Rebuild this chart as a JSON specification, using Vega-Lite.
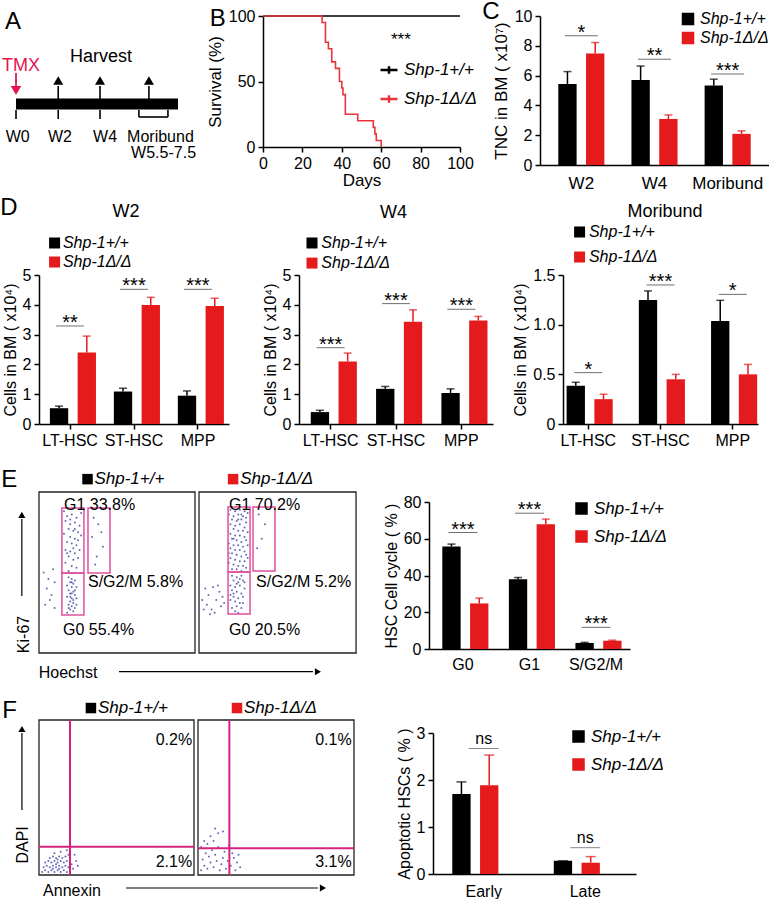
{
"$schema": "https://vega.github.io/schema/vega-lite/v6.json",
"padding": {"top": 0, "left": 0, "right": 0, "bottom": 0},
"background": "white",
"config": {
  "font": "Liberation Sans",
  "view": {"stroke": null},
  "axis": {"domainColor": "#000", "domainWidth": 1.5, "tickColor": "#000", "tickWidth": 1.5, "tickSize": 5, "labelColor": "#000", "labelFontSize": 16, "titleFontSize": 16, "titleFontWeight": "normal", "titleColor": "#000", "grid": false, "labelPadding": 3, "titlePadding": 4, "labelOverlap": false},
  "legend": {"labelColor": "#000", "labelFontStyle": "italic", "labelFontSize": 16},
  "title": {"fontSize": 18, "fontWeight": "normal", "color": "#000"},
  "text": {"color": "#000", "fontSize": 16}
},
"datasets": {
  "surv": [
    {"g": "Shp-1+/+", "day": 0, "s": 100}, {"g": "Shp-1+/+", "day": 100, "s": 100},
    {"g": "Shp-1Δ/Δ", "day": 0, "s": 100}, {"g": "Shp-1Δ/Δ", "day": 30, "s": 95}, {"g": "Shp-1Δ/Δ", "day": 31.7, "s": 80}, {"g": "Shp-1Δ/Δ", "day": 33.2, "s": 75}, {"g": "Shp-1Δ/Δ", "day": 34.9, "s": 65}, {"g": "Shp-1Δ/Δ", "day": 36.8, "s": 60}, {"g": "Shp-1Δ/Δ", "day": 38.8, "s": 50}, {"g": "Shp-1Δ/Δ", "day": 40, "s": 45}, {"g": "Shp-1Δ/Δ", "day": 40.6, "s": 40}, {"g": "Shp-1Δ/Δ", "day": 41.8, "s": 25}, {"g": "Shp-1Δ/Δ", "day": 48.1, "s": 20}, {"g": "Shp-1Δ/Δ", "day": 56, "s": 15}, {"g": "Shp-1Δ/Δ", "day": 56.8, "s": 10}, {"g": "Shp-1Δ/Δ", "day": 57.5, "s": 5}, {"g": "Shp-1Δ/Δ", "day": 60, "s": 0}
  ],
  "C": [
    {"c": "W2", "g": "Shp-1+/+", "v": 5.44, "e": 6.27}, {"c": "W2", "g": "Shp-1Δ/Δ", "v": 7.49, "e": 8.22},
    {"c": "W4", "g": "Shp-1+/+", "v": 5.71, "e": 6.64}, {"c": "W4", "g": "Shp-1Δ/Δ", "v": 3.09, "e": 3.36},
    {"c": "Moribund", "g": "Shp-1+/+", "v": 5.33, "e": 5.76}, {"c": "Moribund", "g": "Shp-1Δ/Δ", "v": 2.09, "e": 2.29}
  ],
  "Cs": [{"c": "W2", "y": 8.67, "s": "*"}, {"c": "W4", "y": 7.1, "s": "**"}, {"c": "Moribund", "y": 6.1, "s": "***"}],
  "W2": [
    {"c": "LT-HSC", "g": "Shp-1+/+", "v": 0.53, "e": 0.6}, {"c": "LT-HSC", "g": "Shp-1Δ/Δ", "v": 2.4, "e": 2.95},
    {"c": "ST-HSC", "g": "Shp-1+/+", "v": 1.09, "e": 1.2}, {"c": "ST-HSC", "g": "Shp-1Δ/Δ", "v": 3.99, "e": 4.25},
    {"c": "MPP", "g": "Shp-1+/+", "v": 0.95, "e": 1.11}, {"c": "MPP", "g": "Shp-1Δ/Δ", "v": 3.96, "e": 4.22}
  ],
  "W2s": [{"c": "LT-HSC", "y": 3.29, "s": "**"}, {"c": "ST-HSC", "y": 4.52, "s": "***"}, {"c": "MPP", "y": 4.52, "s": "***"}],
  "W4": [
    {"c": "LT-HSC", "g": "Shp-1+/+", "v": 0.4, "e": 0.46}, {"c": "LT-HSC", "g": "Shp-1Δ/Δ", "v": 2.1, "e": 2.38},
    {"c": "ST-HSC", "g": "Shp-1+/+", "v": 1.18, "e": 1.26}, {"c": "ST-HSC", "g": "Shp-1Δ/Δ", "v": 3.43, "e": 3.83},
    {"c": "MPP", "g": "Shp-1+/+", "v": 1.04, "e": 1.18}, {"c": "MPP", "g": "Shp-1Δ/Δ", "v": 3.47, "e": 3.61}
  ],
  "W4s": [{"c": "LT-HSC", "y": 2.56, "s": "***"}, {"c": "ST-HSC", "y": 4.04, "s": "***"}, {"c": "MPP", "y": 3.85, "s": "***"}],
  "Mo": [
    {"c": "LT-HSC", "g": "Shp-1+/+", "v": 0.385, "e": 0.42}, {"c": "LT-HSC", "g": "Shp-1Δ/Δ", "v": 0.25, "e": 0.3},
    {"c": "ST-HSC", "g": "Shp-1+/+", "v": 1.248, "e": 1.34}, {"c": "ST-HSC", "g": "Shp-1Δ/Δ", "v": 0.45, "e": 0.5},
    {"c": "MPP", "g": "Shp-1+/+", "v": 1.037, "e": 1.245}, {"c": "MPP", "g": "Shp-1Δ/Δ", "v": 0.5, "e": 0.6}
  ],
  "Mos": [{"c": "LT-HSC", "y": 0.517, "s": "*"}, {"c": "ST-HSC", "y": 1.4, "s": "***"}, {"c": "MPP", "y": 1.305, "s": "*"}],
  "Eb": [
    {"c": "G0", "g": "Shp-1+/+", "v": 55.8, "e": 57.1}, {"c": "G0", "g": "Shp-1Δ/Δ", "v": 24.8, "e": 27.7},
    {"c": "G1", "g": "Shp-1+/+", "v": 38.0, "e": 38.9}, {"c": "G1", "g": "Shp-1Δ/Δ", "v": 67.9, "e": 70.7},
    {"c": "S/G2/M", "g": "Shp-1+/+", "v": 3.3, "e": 3.6}, {"c": "S/G2/M", "g": "Shp-1Δ/Δ", "v": 4.5, "e": 4.8}
  ],
  "Ebs": [{"c": "G0", "y": 63.4, "s": "***"}, {"c": "G1", "y": 73.9, "s": "***"}, {"c": "S/G2/M", "y": 11.8, "s": "***"}],
  "Fb": [
    {"c": "Early", "g": "Shp-1+/+", "v": 1.7, "e": 1.96}, {"c": "Early", "g": "Shp-1Δ/Δ", "v": 1.89, "e": 2.53},
    {"c": "Late", "g": "Shp-1+/+", "v": 0.28, "e": 0.28}, {"c": "Late", "g": "Shp-1Δ/Δ", "v": 0.24, "e": 0.37}
  ],
  "Fbs": [{"c": "Early", "y": 2.67, "s": "ns"}, {"c": "Late", "y": 0.56, "s": "ns"}],
  "E1": [
    {"x":16,"y":88},{"x":18,"y":85},{"x":21,"y":86},{"x":24,"y":84},{"x":27,"y":87},{"x":17,"y":82},{"x":20,"y":80},{"x":23,"y":81},{"x":26,"y":79},{"x":19,"y":77},{"x":22,"y":76},{"x":25,"y":75},{"x":16,"y":74},{"x":20,"y":72},{"x":23,"y":71},{"x":27,"y":73},{"x":18,"y":69},{"x":21,"y":68},{"x":24,"y":67},{"x":17,"y":64},{"x":20,"y":63},{"x":23,"y":62},{"x":26,"y":64},{"x":19,"y":60},{"x":22,"y":58},{"x":25,"y":59},{"x":17,"y":56},{"x":21,"y":54},{"x":24,"y":53},{"x":19,"y":51},{"x":22,"y":65},{"x":25,"y":70},{"x":20,"y":83},{"x":23,"y":77},{"x":18,"y":62},
    {"x":19,"y":47},{"x":21,"y":46},{"x":23,"y":45},{"x":20,"y":44},{"x":22,"y":43},{"x":18,"y":42},{"x":21,"y":41},{"x":24,"y":41},{"x":19,"y":39},{"x":22,"y":38},{"x":20,"y":37},{"x":23,"y":36},{"x":18,"y":35},{"x":21,"y":34},{"x":24,"y":34},{"x":20,"y":32},{"x":22,"y":31},{"x":19,"y":30},{"x":21,"y":29},{"x":23,"y":28},{"x":20,"y":27},{"x":22,"y":26},{"x":18,"y":25},{"x":21,"y":44},{"x":23,"y":39},{"x":20,"y":35},{"x":22,"y":33},{"x":24,"y":30},{"x":19,"y":28},{"x":21,"y":37},
    {"x":35,"y":84},{"x":38,"y":80},{"x":34,"y":72},{"x":41,"y":66},{"x":37,"y":60},{"x":40,"y":75},{"x":36,"y":55},
    {"x":3,"y":50},{"x":6,"y":46},{"x":9,"y":52},{"x":5,"y":40},{"x":8,"y":36},{"x":10,"y":44},{"x":4,"y":30},{"x":10,"y":28},{"x":7,"y":33}
  ],
  "E2": [
    {"x":20,"y":89},{"x":23,"y":88},{"x":26,"y":89},{"x":29,"y":88},{"x":31,"y":87},{"x":19,"y":86},{"x":22,"y":85},{"x":25,"y":86},{"x":28,"y":85},{"x":30,"y":84},{"x":21,"y":83},{"x":24,"y":82},{"x":27,"y":83},{"x":30,"y":81},{"x":20,"y":80},{"x":23,"y":79},{"x":26,"y":80},{"x":29,"y":78},{"x":22,"y":77},{"x":25,"y":76},{"x":28,"y":76},{"x":31,"y":75},{"x":20,"y":74},{"x":23,"y":73},{"x":26,"y":73},{"x":29,"y":72},{"x":21,"y":71},{"x":24,"y":70},{"x":27,"y":69},{"x":30,"y":70},{"x":19,"y":68},{"x":22,"y":67},{"x":25,"y":67},{"x":28,"y":66},{"x":31,"y":67},{"x":20,"y":65},{"x":23,"y":64},{"x":26,"y":64},{"x":29,"y":63},{"x":21,"y":62},{"x":24,"y":61},{"x":27,"y":60},{"x":30,"y":61},{"x":20,"y":59},{"x":23,"y":58},{"x":26,"y":57},{"x":29,"y":57},{"x":22,"y":55},{"x":25,"y":54},{"x":28,"y":54},{"x":21,"y":52},{"x":24,"y":52},{"x":27,"y":51},{"x":30,"y":53},{"x":19,"y":56},{"x":31,"y":59},{"x":19,"y":62},{"x":25,"y":83},{"x":22,"y":71},{"x":27,"y":86},
    {"x":21,"y":48},{"x":24,"y":47},{"x":27,"y":48},{"x":22,"y":45},{"x":25,"y":44},{"x":28,"y":45},{"x":20,"y":42},{"x":23,"y":41},{"x":26,"y":42},{"x":29,"y":40},{"x":21,"y":39},{"x":24,"y":38},{"x":27,"y":37},{"x":22,"y":35},{"x":25,"y":34},{"x":28,"y":35},{"x":20,"y":33},{"x":23,"y":32},{"x":26,"y":31},{"x":24,"y":29},{"x":21,"y":28},{"x":27,"y":28},{"x":23,"y":26},{"x":25,"y":25},{"x":22,"y":37},{"x":26,"y":46},{"x":29,"y":44},{"x":20,"y":36},{"x":28,"y":31},{"x":24,"y":43},
    {"x":38,"y":86},{"x":42,"y":80},{"x":40,"y":71},{"x":37,"y":65},
    {"x":4,"y":40},{"x":6,"y":36},{"x":9,"y":41},{"x":11,"y":33},{"x":5,"y":30},{"x":8,"y":27},{"x":13,"y":38},{"x":10,"y":25},{"x":7,"y":24},{"x":14,"y":29},{"x":12,"y":42},{"x":3,"y":27},{"x":15,"y":35},{"x":2,"y":33},{"x":16,"y":31}
  ],
  "F1": [
    {"x":2,"y":2},{"x":4,"y":3},{"x":6,"y":2},{"x":8,"y":3},{"x":10,"y":2},{"x":12,"y":3},{"x":14,"y":2},{"x":16,"y":3},{"x":18,"y":2},{"x":3,"y":5},{"x":5,"y":6},{"x":7,"y":5},{"x":9,"y":6},{"x":11,"y":5},{"x":13,"y":6},{"x":15,"y":5},{"x":17,"y":6},{"x":19,"y":5},{"x":4,"y":8},{"x":6,"y":9},{"x":8,"y":8},{"x":10,"y":9},{"x":12,"y":8},{"x":14,"y":9},{"x":16,"y":8},{"x":18,"y":9},{"x":7,"y":11},{"x":9,"y":12},{"x":11,"y":11},{"x":13,"y":12},{"x":15,"y":11},{"x":17,"y":12},{"x":19,"y":13},{"x":10,"y":14},{"x":14,"y":15},{"x":18,"y":16},{"x":20,"y":10},{"x":21,"y":7},{"x":22,"y":4},{"x":24,"y":9},{"x":23,"y":13},{"x":25,"y":6},{"x":9,"y":4},{"x":11,"y":7},{"x":13,"y":4},{"x":12,"y":10}
  ],
  "F2": [
    {"x":2,"y":3},{"x":4,"y":6},{"x":3,"y":10},{"x":5,"y":14},{"x":2,"y":18},{"x":4,"y":22},{"x":6,"y":4},{"x":8,"y":8},{"x":7,"y":12},{"x":9,"y":16},{"x":6,"y":20},{"x":8,"y":25},{"x":10,"y":5},{"x":12,"y":9},{"x":11,"y":13},{"x":13,"y":18},{"x":10,"y":22},{"x":14,"y":3},{"x":15,"y":7},{"x":16,"y":11},{"x":13,"y":27},{"x":17,"y":15},{"x":18,"y":4},{"x":19,"y":9},{"x":21,"y":6},{"x":23,"y":11},{"x":25,"y":8},{"x":27,"y":5},{"x":22,"y":14},{"x":24,"y":3},{"x":20,"y":19},{"x":16,"y":28},{"x":11,"y":30},{"x":26,"y":13}
  ]
},
"resolve": {"scale": {"color": "independent", "fill": "independent", "stroke": "independent"}, "legend": {"color": "independent"}},
"spacing": 5,
"vconcat": [
 {
  "hconcat": [
  {
    "width": 144, "height": 148,
    "layer": [
      {"data": {"values": [{"w": 0, "w2": 7.75, "L": -0.2}]}, "mark": {"type": "rule", "strokeWidth": 11, "color": "#000", "strokeCap": "butt"},
       "encoding": {"x": {"field": "w", "type": "quantitative", "scale": {"domain": [1.1, 7.99], "nice": false, "zero": false}, "axis": null}, "x2": {"field": "w2"}, "y": {"field": "L", "type": "quantitative", "scale": {"domain": [-6.2, 8.6], "nice": false, "zero": false}, "axis": null}}},
      {"data": {"values": [{"w": 0, "w2": 0, "L": -0.8, "L2": -1.7}, {"w": 2.02, "w2": 2.02, "L": -0.8, "L2": -1.7}, {"w": 4.02, "w2": 4.02, "L": -0.8, "L2": -1.7}, {"w": 5.88, "w2": 5.88, "L": -0.8, "L2": -1.5}, {"w": 7.27, "w2": 7.27, "L": -0.8, "L2": -1.5}, {"w": 5.88, "w2": 7.27, "L": -1.5, "L2": -1.5}, {"w": 2.02, "w2": 2.02, "L": 0.3, "L2": 1.6}, {"w": 4.02, "w2": 4.02, "L": 0.3, "L2": 1.6}, {"w": 6.36, "w2": 6.36, "L": 0.3, "L2": 1.6}]},
       "mark": {"type": "rule", "strokeWidth": 1.6, "color": "#000"},
       "encoding": {"x": {"field": "w", "type": "quantitative"}, "x2": {"field": "w2"}, "y": {"field": "L", "type": "quantitative"}, "y2": {"field": "L2"}}},
      {"data": {"values": [{"w": 0, "w2": 0, "L": 2.9, "L2": 1.5}]}, "mark": {"type": "rule", "strokeWidth": 1.8, "color": "#e3174e"},
       "encoding": {"x": {"field": "w", "type": "quantitative"}, "x2": {"field": "w2"}, "y": {"field": "L", "type": "quantitative"}, "y2": {"field": "L2"}}},
      {"data": {"values": [{"w": 2.02, "L": 2.15}, {"w": 4.02, "L": 2.15}, {"w": 6.36, "L": 2.15}]}, "mark": {"type": "point", "shape": "triangle-up", "filled": true, "size": 100, "color": "#000", "opacity": 1},
       "encoding": {"x": {"field": "w", "type": "quantitative"}, "y": {"field": "L", "type": "quantitative"}}},
      {"data": {"values": [{"w": 0, "L": 1.15}]}, "mark": {"type": "point", "shape": "triangle-down", "filled": true, "size": 110, "color": "#e3174e", "opacity": 1},
       "encoding": {"x": {"field": "w", "type": "quantitative"}, "y": {"field": "L", "type": "quantitative"}}},
      {"data": {"values": [{"w": 0.08, "L": -4.0, "t": "W0"}, {"w": 2.1, "L": -4.0, "t": "W2"}, {"w": 4.26, "L": -4.0, "t": "W4"}, {"w": 6.91, "L": -4.0, "t": "Moribund"}, {"w": 7.06, "L": -5.6, "t": "W5.5-7.5"}]},
       "mark": {"type": "text", "fontSize": 16, "baseline": "alphabetic"},
       "encoding": {"x": {"field": "w", "type": "quantitative"}, "y": {"field": "L", "type": "quantitative"}, "text": {"field": "t"}}},
      {"data": {"values": [{"w": 4.07, "L": 4.0, "t": "Harvest"}]}, "mark": {"type": "text", "fontSize": 18, "baseline": "alphabetic"},
       "encoding": {"x": {"field": "w", "type": "quantitative"}, "y": {"field": "L", "type": "quantitative"}, "text": {"field": "t"}}},
      {"data": {"values": [{"w": 0.24, "L": 3.1, "t": "TMX"}]}, "mark": {"type": "text", "fontSize": 18, "baseline": "alphabetic", "color": "#e3174e"},
       "encoding": {"x": {"field": "w", "type": "quantitative"}, "y": {"field": "L", "type": "quantitative"}, "text": {"field": "t"}}},
      {"data": {"values": [{"w": -0.14, "L": 7.3, "t": "A"}]}, "mark": {"type": "text", "fontSize": 24, "baseline": "alphabetic"},
       "encoding": {"x": {"field": "w", "type": "quantitative"}, "y": {"field": "L", "type": "quantitative"}, "text": {"field": "t"}}}
    ]
  },
  {
    "width": 197, "height": 131,
    "layer": [
      {"data": {"name": "surv"}, "mark": {"type": "line", "interpolate": "step-after", "strokeWidth": 1.6},
       "encoding": {
         "x": {"field": "day", "type": "quantitative", "scale": {"domain": [0, 100], "nice": false}, "axis": {"values": [0, 20, 40, 60, 80, 100], "tickCount": 12, "format": "d", "title": "Days", "titleFontSize": 17, "titlePadding": 1, "labelFlush": false, "labelOverlap": false}},
         "y": {"field": "s", "type": "quantitative", "scale": {"domain": [0, 100], "nice": false}, "axis": {"values": [0, 50, 100], "tickCount": 12, "format": "d", "title": "Survival (%)", "titleFontSize": 17, "labelOverlap": false}},
         "color": {"field": "g", "type": "nominal", "scale": {"domain": ["Shp-1+/+", "Shp-1Δ/Δ"], "range": ["#000000", "#e8333a"]}, "legend": {"orient": "none", "legendX": 116, "legendY": 44, "title": null, "symbolType": "M-1,0H1M0,-0.45V0.45", "symbolSize": 289, "symbolStrokeWidth": 2.5, "labelFontSize": 17, "rowPadding": 10, "labelOffset": 5}}
       }},
      {"data": {"values": [{"day": 70, "s": 78, "t": "***"}]}, "mark": {"type": "text", "fontSize": 17, "baseline": "alphabetic"},
       "encoding": {"x": {"field": "day", "type": "quantitative"}, "y": {"field": "s", "type": "quantitative"}, "text": {"field": "t"}}},
      {"data": {"values": [{"day": -23, "s": 92.4, "t": "B"}]}, "mark": {"type": "text", "fontSize": 24, "baseline": "alphabetic"},
       "encoding": {"x": {"field": "day", "type": "quantitative"}, "y": {"field": "s", "type": "quantitative"}, "text": {"field": "t"}}}
    ]
  },
  {
    "width": 229, "height": 149,
    "title": {"text": "C", "anchor": "start", "frame": "bounds", "fontSize": 24, "baseline": "alphabetic", "offset": -35, "dx": -10},
    "layer": [
      {"data": {"name": "C"}, "mark": {"type": "bar"},
       "encoding": {
         "x": {"field": "c", "type": "nominal", "sort": ["W2", "W4", "Moribund"], "scale": {"paddingInner": 0.37, "paddingOuter": 0.25}, "axis": {"title": null, "labelAngle": 0, "ticks": false, "tickSize": 0, "labelPadding": 10, "labelFontSize": 17}},
         "xOffset": {"field": "g", "type": "nominal", "sort": ["Shp-1+/+", "Shp-1Δ/Δ"], "scale": {"paddingInner": 0.34}},
         "y": {"field": "v", "type": "quantitative", "scale": {"domain": [0, 10], "nice": false}, "axis": {"values": [0, 2, 4, 6, 8, 10], "tickCount": 12, "format": "d", "title": "TNC in BM ( x10⁷)", "titleFontSize": 17, "labelOverlap": false}},
         "color": {"field": "g", "type": "nominal", "scale": {"domain": ["Shp-1+/+", "Shp-1Δ/Δ"], "range": ["#000000", "#e41a1c"]}, "legend": {"orient": "none", "legendX": 140, "legendY": -5, "title": null, "symbolType": "square", "symbolSize": 121, "labelFontSize": 16, "rowPadding": 1, "labelOffset": 4}}
       }},
      {"data": {"name": "C"}, "mark": {"type": "rule", "strokeWidth": 1.5},
       "encoding": {"x": {"field": "c", "type": "nominal", "sort": ["W2", "W4", "Moribund"]}, "xOffset": {"field": "g", "type": "nominal", "sort": ["Shp-1+/+", "Shp-1Δ/Δ"]}, "y": {"field": "v", "type": "quantitative"}, "y2": {"field": "e"}, "stroke": {"field": "g", "type": "nominal", "scale": {"domain": ["Shp-1+/+", "Shp-1Δ/Δ"], "range": ["#000000", "#e41a1c"]}, "legend": null}}},
      {"data": {"name": "C"}, "mark": {"type": "tick", "orient": "horizontal", "size": 8, "thickness": 1.5},
       "encoding": {"x": {"field": "c", "type": "nominal", "sort": ["W2", "W4", "Moribund"]}, "xOffset": {"field": "g", "type": "nominal", "sort": ["Shp-1+/+", "Shp-1Δ/Δ"]}, "y": {"field": "e", "type": "quantitative"}, "fill": {"field": "g", "type": "nominal", "scale": {"domain": ["Shp-1+/+", "Shp-1Δ/Δ"], "range": ["#000000", "#e41a1c"]}, "legend": null}}},
      {"data": {"name": "Cs"}, "mark": {"type": "tick", "orient": "horizontal", "size": 33, "thickness": 1, "color": "#333"},
       "encoding": {"x": {"field": "c", "type": "nominal", "sort": ["W2", "W4", "Moribund"]}, "y": {"field": "y", "type": "quantitative"}}},
      {"data": {"name": "Cs"}, "mark": {"type": "text", "fontSize": 20, "baseline": "alphabetic", "dy": 3},
       "encoding": {"x": {"field": "c", "type": "nominal", "sort": ["W2", "W4", "Moribund"]}, "y": {"field": "y", "type": "quantitative"}, "text": {"field": "s"}}}
    ]
  }
  ],
  "spacing": 80, "bounds": "flush",
  "resolve": {"scale": {"color": "independent", "fill": "independent", "stroke": "independent"}, "legend": {"color": "independent"}}
 },
 {
  "vconcat": [
   {
    "hconcat": [
  {
    "width": 190, "height": 149,
    "resolve": {"scale": {"x": "independent"}},
    "layer": [
      {"layer": [
        {"data": {"name": "W2"}, "mark": {"type": "bar"},
         "encoding": {
           "x": {"field": "c", "type": "nominal", "sort": ["LT-HSC", "ST-HSC", "MPP"], "scale": {"paddingInner": 0.37, "paddingOuter": 0.17}, "axis": {"title": null, "labelAngle": 0}},
           "xOffset": {"field": "g", "type": "nominal", "sort": ["Shp-1+/+", "Shp-1Δ/Δ"], "scale": {"paddingInner": 0.3}},
           "y": {"field": "v", "type": "quantitative", "scale": {"domain": [0, 5], "nice": false}, "axis": {"values": [0, 1, 2, 3, 4, 5], "tickCount": 12, "format": "d", "title": "Cells in BM ( x10⁴)", "labelOverlap": false}},
           "color": {"field": "g", "type": "nominal", "scale": {"domain": ["Shp-1+/+", "Shp-1Δ/Δ"], "range": ["#000000", "#e41a1c"]}, "legend": null}
         }},
        {"data": {"name": "W2"}, "mark": {"type": "rule", "strokeWidth": 1.5},
         "encoding": {"x": {"field": "c", "type": "nominal", "sort": ["LT-HSC", "ST-HSC", "MPP"]}, "xOffset": {"field": "g", "type": "nominal", "sort": ["Shp-1+/+", "Shp-1Δ/Δ"]}, "y": {"field": "v", "type": "quantitative"}, "y2": {"field": "e"}, "stroke": {"field": "g", "type": "nominal", "scale": {"domain": ["Shp-1+/+", "Shp-1Δ/Δ"], "range": ["#000000", "#e41a1c"]}, "legend": null}}},
        {"data": {"name": "W2"}, "mark": {"type": "tick", "orient": "horizontal", "size": 8, "thickness": 1.5},
         "encoding": {"x": {"field": "c", "type": "nominal", "sort": ["LT-HSC", "ST-HSC", "MPP"]}, "xOffset": {"field": "g", "type": "nominal", "sort": ["Shp-1+/+", "Shp-1Δ/Δ"]}, "y": {"field": "e", "type": "quantitative"}, "fill": {"field": "g", "type": "nominal", "scale": {"domain": ["Shp-1+/+", "Shp-1Δ/Δ"], "range": ["#000000", "#e41a1c"]}, "legend": null}}},
        {"data": {"name": "W2s"}, "mark": {"type": "tick", "orient": "horizontal", "size": 28, "thickness": 1, "color": "#333"},
         "encoding": {"x": {"field": "c", "type": "nominal", "sort": ["LT-HSC", "ST-HSC", "MPP"]}, "y": {"field": "y", "type": "quantitative"}}},
        {"data": {"name": "W2s"}, "mark": {"type": "text", "fontSize": 20, "baseline": "alphabetic", "dy": 3},
         "encoding": {"x": {"field": "c", "type": "nominal", "sort": ["LT-HSC", "ST-HSC", "MPP"]}, "y": {"field": "y", "type": "quantitative"}, "text": {"field": "s"}}}
      ]},
      {"layer": [
        {"data": {"values": [{"px": 0.082, "py": 6.074, "k": "#000000"}, {"px": 0.082, "py": 5.436, "k": "#e41a1c"}]}, "mark": {"type": "point", "shape": "square", "filled": true, "size": 121, "opacity": 1},
         "encoding": {"x": {"field": "px", "type": "quantitative", "scale": {"domain": [0, 1], "nice": false, "zero": false}, "axis": null}, "y": {"field": "py", "type": "quantitative"}, "fill": {"field": "k", "type": "nominal", "scale": null}}},
        {"data": {"values": [{"px": 0.126, "py": 6.074, "t": "Shp-1+/+"}, {"px": 0.126, "py": 5.436, "t": "Shp-1Δ/Δ"}]}, "mark": {"type": "text", "fontSize": 16, "fontStyle": "italic", "align": "left", "baseline": "middle"},
         "encoding": {"x": {"field": "px", "type": "quantitative"}, "y": {"field": "py", "type": "quantitative"}, "text": {"field": "t"}}},
        {"data": {"values": [{"px": 0.458, "py": 6.946, "t": "W2"}]}, "mark": {"type": "text", "fontSize": 18, "baseline": "alphabetic"},
         "encoding": {"x": {"field": "px", "type": "quantitative"}, "y": {"field": "py", "type": "quantitative"}, "text": {"field": "t"}}},
        {"data": {"values": [{"px": -0.158, "py": 7.01, "t": "D"}]}, "mark": {"type": "text", "fontSize": 24, "baseline": "alphabetic"},
         "encoding": {"x": {"field": "px", "type": "quantitative"}, "y": {"field": "py", "type": "quantitative"}, "text": {"field": "t"}}}
      ]}
    ]
  },
  {
    "width": 194, "height": 149,
    "resolve": {"scale": {"x": "independent"}},
    "layer": [
      {"layer": [
        {"data": {"name": "W4"}, "mark": {"type": "bar"},
         "encoding": {
           "x": {"field": "c", "type": "nominal", "sort": ["LT-HSC", "ST-HSC", "MPP"], "scale": {"paddingInner": 0.39, "paddingOuter": 0.18}, "axis": {"title": null, "labelAngle": 0}},
           "xOffset": {"field": "g", "type": "nominal", "sort": ["Shp-1+/+", "Shp-1Δ/Δ"], "scale": {"paddingInner": 0.3}},
           "y": {"field": "v", "type": "quantitative", "scale": {"domain": [0, 5], "nice": false}, "axis": {"values": [0, 1, 2, 3, 4, 5], "tickCount": 12, "format": "d", "title": "Cells in BM ( x10⁴)", "labelOverlap": false}},
           "color": {"field": "g", "type": "nominal", "scale": {"domain": ["Shp-1+/+", "Shp-1Δ/Δ"], "range": ["#000000", "#e41a1c"]}, "legend": null}
         }},
        {"data": {"name": "W4"}, "mark": {"type": "rule", "strokeWidth": 1.5},
         "encoding": {"x": {"field": "c", "type": "nominal", "sort": ["LT-HSC", "ST-HSC", "MPP"]}, "xOffset": {"field": "g", "type": "nominal", "sort": ["Shp-1+/+", "Shp-1Δ/Δ"]}, "y": {"field": "v", "type": "quantitative"}, "y2": {"field": "e"}, "stroke": {"field": "g", "type": "nominal", "scale": {"domain": ["Shp-1+/+", "Shp-1Δ/Δ"], "range": ["#000000", "#e41a1c"]}, "legend": null}}},
        {"data": {"name": "W4"}, "mark": {"type": "tick", "orient": "horizontal", "size": 8, "thickness": 1.5},
         "encoding": {"x": {"field": "c", "type": "nominal", "sort": ["LT-HSC", "ST-HSC", "MPP"]}, "xOffset": {"field": "g", "type": "nominal", "sort": ["Shp-1+/+", "Shp-1Δ/Δ"]}, "y": {"field": "e", "type": "quantitative"}, "fill": {"field": "g", "type": "nominal", "scale": {"domain": ["Shp-1+/+", "Shp-1Δ/Δ"], "range": ["#000000", "#e41a1c"]}, "legend": null}}},
        {"data": {"name": "W4s"}, "mark": {"type": "tick", "orient": "horizontal", "size": 28, "thickness": 1, "color": "#333"},
         "encoding": {"x": {"field": "c", "type": "nominal", "sort": ["LT-HSC", "ST-HSC", "MPP"]}, "y": {"field": "y", "type": "quantitative"}}},
        {"data": {"name": "W4s"}, "mark": {"type": "text", "fontSize": 20, "baseline": "alphabetic", "dy": 3},
         "encoding": {"x": {"field": "c", "type": "nominal", "sort": ["LT-HSC", "ST-HSC", "MPP"]}, "y": {"field": "y", "type": "quantitative"}, "text": {"field": "s"}}}
      ]},
      {"layer": [
        {"data": {"values": [{"px": 0.067, "py": 6.074, "k": "#000000"}, {"px": 0.067, "py": 5.40, "k": "#e41a1c"}]}, "mark": {"type": "point", "shape": "square", "filled": true, "size": 121, "opacity": 1},
         "encoding": {"x": {"field": "px", "type": "quantitative", "scale": {"domain": [0, 1], "nice": false, "zero": false}, "axis": null}, "y": {"field": "py", "type": "quantitative"}, "fill": {"field": "k", "type": "nominal", "scale": null}}},
        {"data": {"values": [{"px": 0.115, "py": 6.074, "t": "Shp-1+/+"}, {"px": 0.115, "py": 5.40, "t": "Shp-1Δ/Δ"}]}, "mark": {"type": "text", "fontSize": 16, "fontStyle": "italic", "align": "left", "baseline": "middle"},
         "encoding": {"x": {"field": "px", "type": "quantitative"}, "y": {"field": "py", "type": "quantitative"}, "text": {"field": "t"}}},
        {"data": {"values": [{"px": 0.487, "py": 6.91, "t": "W4"}]}, "mark": {"type": "text", "fontSize": 18, "baseline": "alphabetic"},
         "encoding": {"x": {"field": "px", "type": "quantitative"}, "y": {"field": "py", "type": "quantitative"}, "text": {"field": "t"}}}
      ]}
    ]
  },
  {
    "width": 195, "height": 149,
    "resolve": {"scale": {"x": "independent"}},
    "layer": [
      {"layer": [
        {"data": {"name": "Mo"}, "mark": {"type": "bar"},
         "encoding": {
           "x": {"field": "c", "type": "nominal", "sort": ["LT-HSC", "ST-HSC", "MPP"], "scale": {"paddingInner": 0.4, "paddingOuter": 0.05}, "axis": {"title": null, "labelAngle": 0}},
           "xOffset": {"field": "g", "type": "nominal", "sort": ["Shp-1+/+", "Shp-1Δ/Δ"], "scale": {"paddingInner": 0.3}},
           "y": {"field": "v", "type": "quantitative", "scale": {"domain": [0, 1.5], "nice": false}, "axis": {"values": [0, 0.5, 1, 1.5], "tickCount": 12, "labelExpr": "datum.value == 0 ? '0' : format(datum.value, '.1f')", "title": "Cells in BM ( x10⁴)", "labelOverlap": false}},
           "color": {"field": "g", "type": "nominal", "scale": {"domain": ["Shp-1+/+", "Shp-1Δ/Δ"], "range": ["#000000", "#e41a1c"]}, "legend": null}
         }},
        {"data": {"name": "Mo"}, "mark": {"type": "rule", "strokeWidth": 1.5},
         "encoding": {"x": {"field": "c", "type": "nominal", "sort": ["LT-HSC", "ST-HSC", "MPP"]}, "xOffset": {"field": "g", "type": "nominal", "sort": ["Shp-1+/+", "Shp-1Δ/Δ"]}, "y": {"field": "v", "type": "quantitative"}, "y2": {"field": "e"}, "stroke": {"field": "g", "type": "nominal", "scale": {"domain": ["Shp-1+/+", "Shp-1Δ/Δ"], "range": ["#000000", "#e41a1c"]}, "legend": null}}},
        {"data": {"name": "Mo"}, "mark": {"type": "tick", "orient": "horizontal", "size": 8, "thickness": 1.5},
         "encoding": {"x": {"field": "c", "type": "nominal", "sort": ["LT-HSC", "ST-HSC", "MPP"]}, "xOffset": {"field": "g", "type": "nominal", "sort": ["Shp-1+/+", "Shp-1Δ/Δ"]}, "y": {"field": "e", "type": "quantitative"}, "fill": {"field": "g", "type": "nominal", "scale": {"domain": ["Shp-1+/+", "Shp-1Δ/Δ"], "range": ["#000000", "#e41a1c"]}, "legend": null}}},
        {"data": {"name": "Mos"}, "mark": {"type": "tick", "orient": "horizontal", "size": 28, "thickness": 1, "color": "#333"},
         "encoding": {"x": {"field": "c", "type": "nominal", "sort": ["LT-HSC", "ST-HSC", "MPP"]}, "y": {"field": "y", "type": "quantitative"}}},
        {"data": {"name": "Mos"}, "mark": {"type": "text", "fontSize": 20, "baseline": "alphabetic", "dy": 3},
         "encoding": {"x": {"field": "c", "type": "nominal", "sort": ["LT-HSC", "ST-HSC", "MPP"]}, "y": {"field": "y", "type": "quantitative"}, "text": {"field": "s"}}}
      ]},
      {"layer": [
        {"data": {"values": [{"px": 0.085, "py": 1.933, "k": "#000000"}, {"px": 0.085, "py": 1.681, "k": "#e41a1c"}]}, "mark": {"type": "point", "shape": "square", "filled": true, "size": 121, "opacity": 1},
         "encoding": {"x": {"field": "px", "type": "quantitative", "scale": {"domain": [0, 1], "nice": false, "zero": false}, "axis": null}, "y": {"field": "py", "type": "quantitative"}, "fill": {"field": "k", "type": "nominal", "scale": null}}},
        {"data": {"values": [{"px": 0.133, "py": 1.933, "t": "Shp-1+/+"}, {"px": 0.133, "py": 1.681, "t": "Shp-1Δ/Δ"}]}, "mark": {"type": "text", "fontSize": 16, "fontStyle": "italic", "align": "left", "baseline": "middle"},
         "encoding": {"x": {"field": "px", "type": "quantitative"}, "y": {"field": "py", "type": "quantitative"}, "text": {"field": "t"}}},
        {"data": {"values": [{"px": 0.523, "py": 2.084, "t": "Moribund"}]}, "mark": {"type": "text", "fontSize": 18, "baseline": "alphabetic"},
         "encoding": {"x": {"field": "px", "type": "quantitative"}, "y": {"field": "py", "type": "quantitative"}, "text": {"field": "t"}}}
      ]}
    ]
  }
    ],
    "spacing": 70, "bounds": "flush",
    "resolve": {"scale": {"color": "independent", "fill": "independent", "stroke": "independent"}, "legend": {"color": "independent"}}
   },
   {
    "vconcat": [
     {
      "hconcat": [
  {
    "width": 156, "height": 151,
    "layer": [
      {"data": {"values": [{"x": 0, "x2": 100, "y": 0, "y2": 100}]}, "mark": {"type": "rect", "fillOpacity": 0, "stroke": "#222", "strokeWidth": 1.3},
       "encoding": {"x": {"field": "x", "type": "quantitative", "scale": {"domain": [0, 100], "nice": false, "zero": false}, "axis": null}, "x2": {"field": "x2"}, "y": {"field": "y", "type": "quantitative", "scale": {"domain": [0, 93.8], "nice": false, "zero": false}, "axis": null}, "y2": {"field": "y2"}}},
      {"data": {"name": "E1"}, "mark": {"type": "point", "filled": true, "size": 4, "color": "#3d45a3", "opacity": 0.8},
       "encoding": {"x": {"field": "x", "type": "quantitative"}, "y": {"field": "y", "type": "quantitative"}}},
      {"data": {"values": [{"x": 14.7, "x2": 28.8, "y": 49.7, "y2": 90}, {"x": 31.4, "x2": 45.5, "y": 49.7, "y2": 90}, {"x": 14.7, "x2": 28.8, "y": 23.6, "y2": 49.7}]},
       "mark": {"type": "rect", "fillOpacity": 0, "stroke": "#e0509e", "strokeWidth": 1.5},
       "encoding": {"x": {"field": "x", "type": "quantitative"}, "x2": {"field": "x2"}, "y": {"field": "y", "type": "quantitative"}, "y2": {"field": "y2"}}},
      {"data": {"values": [{"x": 16, "y": 88.8, "t": "G1 33.8%"}, {"x": 31.4, "y": 41, "t": "S/G2/M 5.8%"}, {"x": 15.4, "y": 11.2, "t": "G0 55.4%"}]},
       "mark": {"type": "text", "fontSize": 16, "align": "left", "baseline": "alphabetic"},
       "encoding": {"x": {"field": "x", "type": "quantitative"}, "y": {"field": "y", "type": "quantitative"}, "text": {"field": "t"}}},
      {"data": {"values": [{"x": 31.1, "y": 108}]}, "mark": {"type": "point", "shape": "square", "filled": true, "size": 110, "color": "#000", "opacity": 1},
       "encoding": {"x": {"field": "x", "type": "quantitative"}, "y": {"field": "y", "type": "quantitative"}}},
      {"data": {"values": [{"x": 35.5, "y": 108, "t": "Shp-1+/+"}]}, "mark": {"type": "text", "fontSize": 17, "fontStyle": "italic", "align": "left", "baseline": "middle"},
       "encoding": {"x": {"field": "x", "type": "quantitative"}, "y": {"field": "y", "type": "quantitative"}, "text": {"field": "t"}}},
      {"data": {"values": [{"x": -19, "y": 103.1, "t": "E"}]}, "mark": {"type": "text", "fontSize": 24, "baseline": "alphabetic"},
       "encoding": {"x": {"field": "x", "type": "quantitative"}, "y": {"field": "y", "type": "quantitative"}, "text": {"field": "t"}}},
      {"data": {"values": [{"x": -9.5, "y": 11.5, "t": "Ki-67"}]}, "mark": {"type": "text", "fontSize": 16, "angle": 270, "baseline": "middle"},
       "encoding": {"x": {"field": "x", "type": "quantitative"}, "y": {"field": "y", "type": "quantitative"}, "text": {"field": "t"}}},
      {"data": {"values": [{"x": 18.6, "y": -15.5, "t": "Hoechst"}]}, "mark": {"type": "text", "fontSize": 16, "baseline": "alphabetic"},
       "encoding": {"x": {"field": "x", "type": "quantitative"}, "y": {"field": "y", "type": "quantitative"}, "text": {"field": "t"}}},
      {"data": {"values": [{"x": -11, "x2": -11, "y": 35.4, "y2": 83.2}, {"x": 51.3, "x2": 175.6, "y": -11.6, "y2": -11.6}]}, "mark": {"type": "rule", "strokeWidth": 1.2, "color": "#000"},
       "encoding": {"x": {"field": "x", "type": "quantitative"}, "x2": {"field": "x2"}, "y": {"field": "y", "type": "quantitative"}, "y2": {"field": "y2"}}},
      {"data": {"values": [{"x": -11, "y": 85.8}]}, "mark": {"type": "point", "shape": "triangle-up", "filled": true, "size": 50, "color": "#000", "opacity": 1},
       "encoding": {"x": {"field": "x", "type": "quantitative"}, "y": {"field": "y", "type": "quantitative"}}},
      {"data": {"values": [{"x": 178.8, "y": -11.6}]}, "mark": {"type": "point", "shape": "triangle-right", "filled": true, "size": 50, "color": "#000", "opacity": 1},
       "encoding": {"x": {"field": "x", "type": "quantitative"}, "y": {"field": "y", "type": "quantitative"}}}
    ]
  },
  {
    "width": 226, "height": 151,
    "layer": [
      {"data": {"values": [{"x": 0, "x2": 100, "y": 0, "y2": 100}]}, "mark": {"type": "rect", "fillOpacity": 0, "stroke": "#222", "strokeWidth": 1.3},
       "encoding": {"x": {"field": "x", "type": "quantitative", "scale": {"domain": [0, 143.9], "nice": false, "zero": false}, "axis": null}, "x2": {"field": "x2"}, "y": {"field": "y", "type": "quantitative", "scale": {"domain": [0, 93.8], "nice": false, "zero": false}, "axis": null}, "y2": {"field": "y2"}}},
      {"data": {"name": "E2"}, "mark": {"type": "point", "filled": true, "size": 4, "color": "#3d45a3", "opacity": 0.8},
       "encoding": {"x": {"field": "x", "type": "quantitative"}, "y": {"field": "y", "type": "quantitative"}}},
      {"data": {"values": [{"x": 18.5, "x2": 32.5, "y": 50.3, "y2": 90.7}, {"x": 34.4, "x2": 48.4, "y": 51, "y2": 90.7}, {"x": 18.5, "x2": 32.5, "y": 24.2, "y2": 50.3}]},
       "mark": {"type": "rect", "fillOpacity": 0, "stroke": "#e0509e", "strokeWidth": 1.5},
       "encoding": {"x": {"field": "x", "type": "quantitative"}, "x2": {"field": "x2"}, "y": {"field": "y", "type": "quantitative"}, "y2": {"field": "y2"}}},
      {"data": {"values": [{"x": 19.1, "y": 88.8, "t": "G1 70.2%"}, {"x": 36.3, "y": 41, "t": "S/G2/M 5.2%"}, {"x": 19.1, "y": 11.2, "t": "G0 20.5%"}]},
       "mark": {"type": "text", "fontSize": 16, "align": "left", "baseline": "alphabetic"},
       "encoding": {"x": {"field": "x", "type": "quantitative"}, "y": {"field": "y", "type": "quantitative"}, "text": {"field": "t"}}},
      {"data": {"values": [{"x": 21.7, "y": 108}]}, "mark": {"type": "point", "shape": "square", "filled": true, "size": 110, "color": "#e41a1c", "opacity": 1},
       "encoding": {"x": {"field": "x", "type": "quantitative"}, "y": {"field": "y", "type": "quantitative"}}},
      {"data": {"values": [{"x": 26.2, "y": 108, "t": "Shp-1Δ/Δ"}]}, "mark": {"type": "text", "fontSize": 17, "fontStyle": "italic", "align": "left", "baseline": "middle"},
       "encoding": {"x": {"field": "x", "type": "quantitative"}, "y": {"field": "y", "type": "quantitative"}, "text": {"field": "t"}}}
    ]
  },
  {
    "width": 201, "height": 147,
    "layer": [
      {"data": {"name": "Eb"}, "mark": {"type": "bar"},
       "encoding": {
         "x": {"field": "c", "type": "nominal", "sort": ["G0", "G1", "S/G2/M"], "scale": {"paddingInner": 0.38, "paddingOuter": 0.2}, "axis": {"title": null, "labelAngle": 0, "ticks": false, "tickSize": 0, "labelPadding": 7}},
         "xOffset": {"field": "g", "type": "nominal", "sort": ["Shp-1+/+", "Shp-1Δ/Δ"], "scale": {"paddingInner": 0.33}},
         "y": {"field": "v", "type": "quantitative", "scale": {"domain": [0, 80], "nice": false}, "axis": {"values": [0, 20, 40, 60, 80], "tickCount": 12, "format": "d", "title": "HSC Cell cycle ( % )", "labelOverlap": false}},
         "color": {"field": "g", "type": "nominal", "scale": {"domain": ["Shp-1+/+", "Shp-1Δ/Δ"], "range": ["#000000", "#e41a1c"]}, "legend": {"orient": "none", "legendX": 144, "legendY": -2, "title": null, "symbolType": "square", "symbolSize": 121, "labelFontSize": 17, "rowPadding": 10, "labelOffset": 4}}
       }},
      {"data": {"name": "Eb"}, "mark": {"type": "rule", "strokeWidth": 1.5},
       "encoding": {"x": {"field": "c", "type": "nominal", "sort": ["G0", "G1", "S/G2/M"]}, "xOffset": {"field": "g", "type": "nominal", "sort": ["Shp-1+/+", "Shp-1Δ/Δ"]}, "y": {"field": "v", "type": "quantitative"}, "y2": {"field": "e"}, "stroke": {"field": "g", "type": "nominal", "scale": {"domain": ["Shp-1+/+", "Shp-1Δ/Δ"], "range": ["#000000", "#e41a1c"]}, "legend": null}}},
      {"data": {"name": "Eb"}, "mark": {"type": "tick", "orient": "horizontal", "size": 8, "thickness": 1.5},
       "encoding": {"x": {"field": "c", "type": "nominal", "sort": ["G0", "G1", "S/G2/M"]}, "xOffset": {"field": "g", "type": "nominal", "sort": ["Shp-1+/+", "Shp-1Δ/Δ"]}, "y": {"field": "e", "type": "quantitative"}, "fill": {"field": "g", "type": "nominal", "scale": {"domain": ["Shp-1+/+", "Shp-1Δ/Δ"], "range": ["#000000", "#e41a1c"]}, "legend": null}}},
      {"data": {"name": "Ebs"}, "mark": {"type": "tick", "orient": "horizontal", "size": 29, "thickness": 1, "color": "#333"},
       "encoding": {"x": {"field": "c", "type": "nominal", "sort": ["G0", "G1", "S/G2/M"]}, "y": {"field": "y", "type": "quantitative"}}},
      {"data": {"name": "Ebs"}, "mark": {"type": "text", "fontSize": 20, "baseline": "alphabetic", "dy": 3},
       "encoding": {"x": {"field": "c", "type": "nominal", "sort": ["G0", "G1", "S/G2/M"]}, "y": {"field": "y", "type": "quantitative"}, "text": {"field": "s"}}}
    ]
  }
      ],
      "spacing": 4, "bounds": "flush",
      "resolve": {"scale": {"color": "independent", "fill": "independent", "stroke": "independent"}, "legend": {"color": "independent"}}
     },
     {
      "hconcat": [
  {
    "width": 155, "height": 142,
    "layer": [
      {"data": {"values": [{"x": 0, "x2": 100, "y": 0, "y2": 100}]}, "mark": {"type": "rect", "fillOpacity": 0, "stroke": "#222", "strokeWidth": 1.3},
       "encoding": {"x": {"field": "x", "type": "quantitative", "scale": {"domain": [0, 100], "nice": false, "zero": false}, "axis": null}, "x2": {"field": "x2"}, "y": {"field": "y", "type": "quantitative", "scale": {"domain": [0, 91.6], "nice": false, "zero": false}, "axis": null}, "y2": {"field": "y2"}}},
      {"data": {"name": "F1"}, "mark": {"type": "point", "filled": true, "size": 4, "color": "#3d45a3", "opacity": 0.8},
       "encoding": {"x": {"field": "x", "type": "quantitative"}, "y": {"field": "y", "type": "quantitative"}}},
      {"data": {"values": [{"x": 20, "x2": 20, "y": 0, "y2": 100}, {"x": 0, "x2": 100, "y": 18.3, "y2": 18.3}]}, "mark": {"type": "rule", "strokeWidth": 2, "color": "#d4237f"},
       "encoding": {"x": {"field": "x", "type": "quantitative"}, "x2": {"field": "x2"}, "y": {"field": "y", "type": "quantitative"}, "y2": {"field": "y2"}}},
      {"data": {"values": [{"x": 98.8, "y": 83.9, "t": "0.2%"}, {"x": 98.8, "y": 5.0, "t": "2.1%"}]},
       "mark": {"type": "text", "fontSize": 16, "align": "right", "baseline": "alphabetic"},
       "encoding": {"x": {"field": "x", "type": "quantitative"}, "y": {"field": "y", "type": "quantitative"}, "text": {"field": "t"}}},
      {"data": {"values": [{"x": 33.5, "y": 107.7}]}, "mark": {"type": "point", "shape": "square", "filled": true, "size": 110, "color": "#000", "opacity": 1},
       "encoding": {"x": {"field": "x", "type": "quantitative"}, "y": {"field": "y", "type": "quantitative"}}},
      {"data": {"values": [{"x": 38, "y": 107.7, "t": "Shp-1+/+"}]}, "mark": {"type": "text", "fontSize": 17, "fontStyle": "italic", "align": "left", "baseline": "middle"},
       "encoding": {"x": {"field": "x", "type": "quantitative"}, "y": {"field": "y", "type": "quantitative"}, "text": {"field": "t"}}},
      {"data": {"values": [{"x": -19, "y": 101.3, "t": "F"}]}, "mark": {"type": "text", "fontSize": 24, "baseline": "alphabetic"},
       "encoding": {"x": {"field": "x", "type": "quantitative"}, "y": {"field": "y", "type": "quantitative"}, "text": {"field": "t"}}},
      {"data": {"values": [{"x": -10.3, "y": 19.4, "t": "DAPI"}]}, "mark": {"type": "text", "fontSize": 16, "angle": 270, "baseline": "middle"},
       "encoding": {"x": {"field": "x", "type": "quantitative"}, "y": {"field": "y", "type": "quantitative"}, "text": {"field": "t"}}},
      {"data": {"values": [{"x": 21.3, "y": -13.5, "t": "Annexin"}]}, "mark": {"type": "text", "fontSize": 16, "baseline": "alphabetic"},
       "encoding": {"x": {"field": "x", "type": "quantitative"}, "y": {"field": "y", "type": "quantitative"}, "text": {"field": "t"}}},
      {"data": {"values": [{"x": -11, "x2": -11, "y": 41.9, "y2": 91.6}, {"x": 56.1, "x2": 179.9, "y": -8.4, "y2": -8.4}]}, "mark": {"type": "rule", "strokeWidth": 1.2, "color": "#000"},
       "encoding": {"x": {"field": "x", "type": "quantitative"}, "x2": {"field": "x2"}, "y": {"field": "y", "type": "quantitative"}, "y2": {"field": "y2"}}},
      {"data": {"values": [{"x": -11, "y": 94.2}]}, "mark": {"type": "point", "shape": "triangle-up", "filled": true, "size": 50, "color": "#000", "opacity": 1},
       "encoding": {"x": {"field": "x", "type": "quantitative"}, "y": {"field": "y", "type": "quantitative"}}},
      {"data": {"values": [{"x": 183.2, "y": -8.4}]}, "mark": {"type": "point", "shape": "triangle-right", "filled": true, "size": 50, "color": "#000", "opacity": 1},
       "encoding": {"x": {"field": "x", "type": "quantitative"}, "y": {"field": "y", "type": "quantitative"}}}
    ]
  },
  {
    "width": 231, "height": 142,
    "layer": [
      {"data": {"values": [{"x": 0, "x2": 100, "y": 0, "y2": 100}]}, "mark": {"type": "rect", "fillOpacity": 0, "stroke": "#222", "strokeWidth": 1.3},
       "encoding": {"x": {"field": "x", "type": "quantitative", "scale": {"domain": [0, 148.1], "nice": false, "zero": false}, "axis": null}, "x2": {"field": "x2"}, "y": {"field": "y", "type": "quantitative", "scale": {"domain": [0, 91.6], "nice": false, "zero": false}, "axis": null}, "y2": {"field": "y2"}}},
      {"data": {"name": "F2"}, "mark": {"type": "point", "filled": true, "size": 4, "color": "#3d45a3", "opacity": 0.8},
       "encoding": {"x": {"field": "x", "type": "quantitative"}, "y": {"field": "y", "type": "quantitative"}}},
      {"data": {"values": [{"x": 20.1, "x2": 20.1, "y": 0, "y2": 100}, {"x": 0, "x2": 100, "y": 17.2, "y2": 17.2}]}, "mark": {"type": "rule", "strokeWidth": 2, "color": "#d4237f"},
       "encoding": {"x": {"field": "x", "type": "quantitative"}, "x2": {"field": "x2"}, "y": {"field": "y", "type": "quantitative"}, "y2": {"field": "y2"}}},
      {"data": {"values": [{"x": 98.5, "y": 83.9, "t": "0.1%"}, {"x": 98.5, "y": 5.0, "t": "3.1%"}]},
       "mark": {"type": "text", "fontSize": 16, "align": "right", "baseline": "alphabetic"},
       "encoding": {"x": {"field": "x", "type": "quantitative"}, "y": {"field": "y", "type": "quantitative"}, "text": {"field": "t"}}},
      {"data": {"values": [{"x": 25, "y": 107.7}]}, "mark": {"type": "point", "shape": "square", "filled": true, "size": 110, "color": "#e41a1c", "opacity": 1},
       "encoding": {"x": {"field": "x", "type": "quantitative"}, "y": {"field": "y", "type": "quantitative"}}},
      {"data": {"values": [{"x": 29.5, "y": 107.7, "t": "Shp-1Δ/Δ"}]}, "mark": {"type": "text", "fontSize": 17, "fontStyle": "italic", "align": "left", "baseline": "middle"},
       "encoding": {"x": {"field": "x", "type": "quantitative"}, "y": {"field": "y", "type": "quantitative"}, "text": {"field": "t"}}}
    ]
  },
  {
    "width": 203, "height": 141,
    "layer": [
      {"data": {"name": "Fb"}, "mark": {"type": "bar"},
       "encoding": {
         "x": {"field": "c", "type": "nominal", "sort": ["Early", "Late"], "scale": {"paddingInner": 0.38, "paddingOuter": 0.19}, "axis": {"title": null, "labelAngle": 0, "ticks": false, "tickSize": 0, "labelPadding": 9}},
         "xOffset": {"field": "g", "type": "nominal", "sort": ["Shp-1+/+", "Shp-1Δ/Δ"], "scale": {"paddingInner": 0.35}},
         "y": {"field": "v", "type": "quantitative", "scale": {"domain": [0, 3], "nice": false}, "axis": {"values": [0, 1, 2, 3], "tickCount": 12, "format": "d", "title": "Apoptotic HSCs ( % )", "labelOverlap": false}},
         "color": {"field": "g", "type": "nominal", "scale": {"domain": ["Shp-1+/+", "Shp-1Δ/Δ"], "range": ["#000000", "#e41a1c"]}, "legend": {"orient": "none", "legendX": 137, "legendY": -5, "title": null, "symbolType": "square", "symbolSize": 121, "labelFontSize": 17, "rowPadding": 10, "labelOffset": 4}}
       }},
      {"data": {"name": "Fb"}, "mark": {"type": "rule", "strokeWidth": 1.5},
       "encoding": {"x": {"field": "c", "type": "nominal", "sort": ["Early", "Late"]}, "xOffset": {"field": "g", "type": "nominal", "sort": ["Shp-1+/+", "Shp-1Δ/Δ"]}, "y": {"field": "v", "type": "quantitative"}, "y2": {"field": "e"}, "stroke": {"field": "g", "type": "nominal", "scale": {"domain": ["Shp-1+/+", "Shp-1Δ/Δ"], "range": ["#000000", "#e41a1c"]}, "legend": null}}},
      {"data": {"name": "Fb"}, "mark": {"type": "tick", "orient": "horizontal", "size": 10, "thickness": 1.5},
       "encoding": {"x": {"field": "c", "type": "nominal", "sort": ["Early", "Late"]}, "xOffset": {"field": "g", "type": "nominal", "sort": ["Shp-1+/+", "Shp-1Δ/Δ"]}, "y": {"field": "e", "type": "quantitative"}, "fill": {"field": "g", "type": "nominal", "scale": {"domain": ["Shp-1+/+", "Shp-1Δ/Δ"], "range": ["#000000", "#e41a1c"]}, "legend": null}}},
      {"data": {"name": "Fbs"}, "mark": {"type": "tick", "orient": "horizontal", "size": 30, "thickness": 1, "color": "#555"},
       "encoding": {"x": {"field": "c", "type": "nominal", "sort": ["Early", "Late"]}, "y": {"field": "y", "type": "quantitative"}}},
      {"data": {"name": "Fbs"}, "mark": {"type": "text", "fontSize": 16, "baseline": "alphabetic", "dy": -5},
       "encoding": {"x": {"field": "c", "type": "nominal", "sort": ["Early", "Late"]}, "y": {"field": "y", "type": "quantitative"}, "text": {"field": "s"}}}
    ]
  }
      ],
      "spacing": 4, "bounds": "flush",
      "resolve": {"scale": {"color": "independent", "fill": "independent", "stroke": "independent"}, "legend": {"color": "independent"}}
     }
    ],
    "spacing": 17,
    "resolve": {"scale": {"color": "independent", "fill": "independent", "stroke": "independent"}, "legend": {"color": "independent"}}
   }
  ],
  "spacing": 20,
  "resolve": {"scale": {"color": "independent", "fill": "independent", "stroke": "independent"}, "legend": {"color": "independent"}}
 }
]
}
